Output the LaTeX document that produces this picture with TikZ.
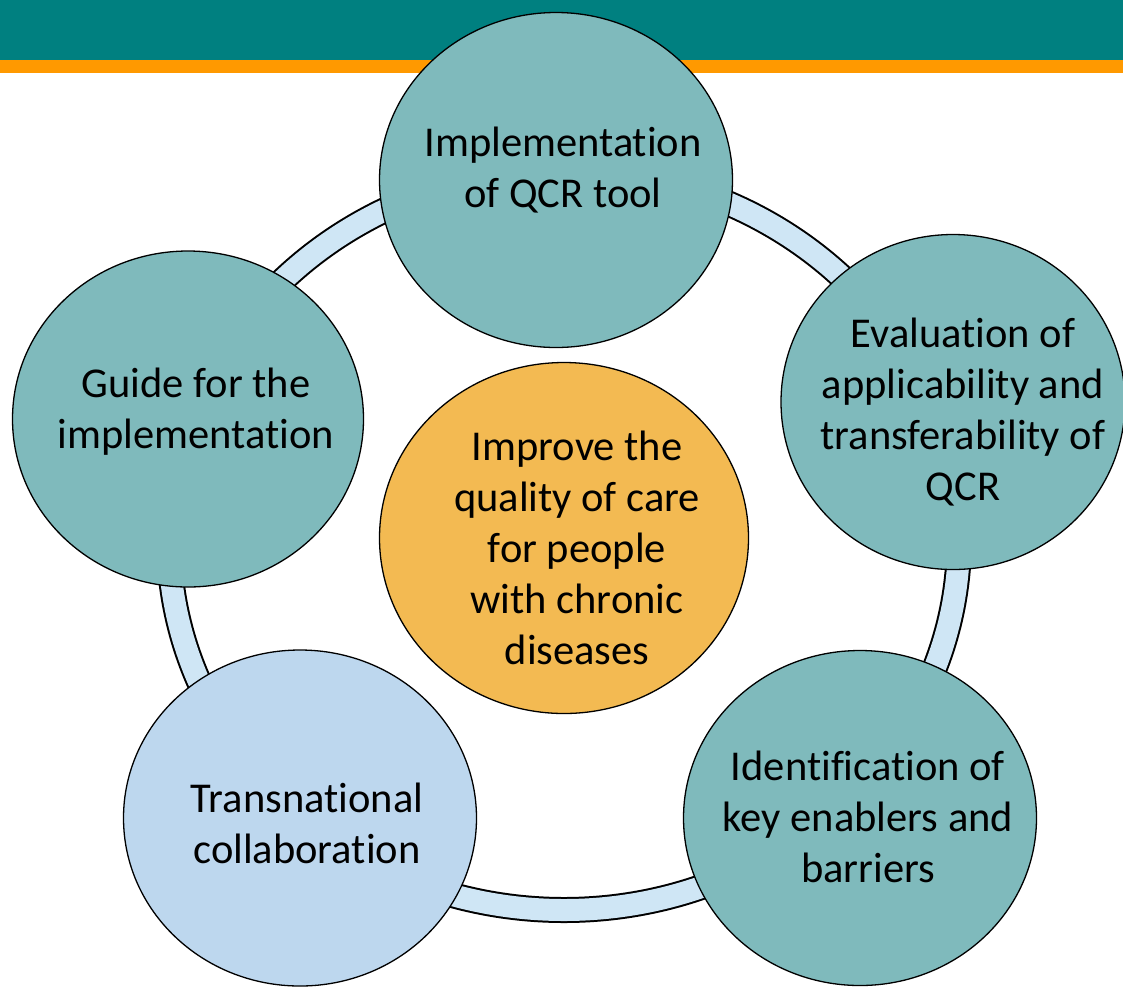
\documentclass[tikz,border=0pt]{standalone}
\usepackage{fontspec}
\setmainfont{Carlito}[Ligatures=NoCommon]
\usetikzlibrary{shapes.geometric}
\definecolor{mbar}{RGB}{0,128,128}
\definecolor{mstripe}{RGB}{255,153,0}
\definecolor{mteal}{RGB}{127,186,188}
\definecolor{mlight}{RGB}{189,215,238}
\definecolor{mgold}{RGB}{243,186,82}
\definecolor{mring}{RGB}{207,230,245}

\tikzset{
  bubble/.style={ellipse, draw=black, line width=1.3pt, inner sep=0pt},
  caption/.style={align=center, inner sep=0pt, font=\fontsize{42.5}{51}\selectfont},
}

\begin{document}
\begin{tikzpicture}[x=1pt, y=-1pt]
  \useasboundingbox (0,0) rectangle (1123,986);
  \fill[mbar] (0,0) rectangle (1123,60);
  \fill[mstripe] (0,60) rectangle (1123,73);
  % the ring runs behind all bubbles
  \coordinate (hub) at (564,540);
  \draw[line width=26pt] (hub) ellipse [x radius=395pt, y radius=370pt];
  \draw[line width=22pt, mring] (hub) ellipse [x radius=395pt, y radius=370pt];

  \node[bubble, fill=mteal, minimum width=353pt, minimum height=335pt] (impl) at (556,180) {};
  \node[bubble, fill=mteal, minimum width=344pt, minimum height=335pt] (evalq) at (953,402) {};
  \node[bubble, fill=mteal, minimum width=353pt, minimum height=335pt] (ident) at (860,818) {};
  \node[bubble, fill=mlight, minimum width=353pt, minimum height=336pt] (trans) at (300,818) {};
  \node[bubble, fill=mteal, minimum width=351pt, minimum height=336pt] (guide) at (188,419) {};
  \node[bubble, fill=mgold, minimum width=369pt, minimum height=351pt] (goal) at (564,538) {};

  % texts sit a little off the bubble centres
  \node[caption] (impltext) at (563,170) {Implementation\\of QCR tool};
  \node[caption] (evalqtext) at (963,412) {Evaluation of\\applicability and\\transferability of\\QCR};
  \node[caption] (identtext) at (868,817) {Identification of\\key enablers and\\barriers};
  \node[caption] (transtext) at (307,823) {Transnational\\collaboration};
  \node[caption] (guidetext) at (196,412) {Guide for the\\implementation};
  \node[caption] (goaltext) at (577,548) {Improve the\\quality of care\\for people\\with chronic\\diseases};
\end{tikzpicture}
\end{document}
